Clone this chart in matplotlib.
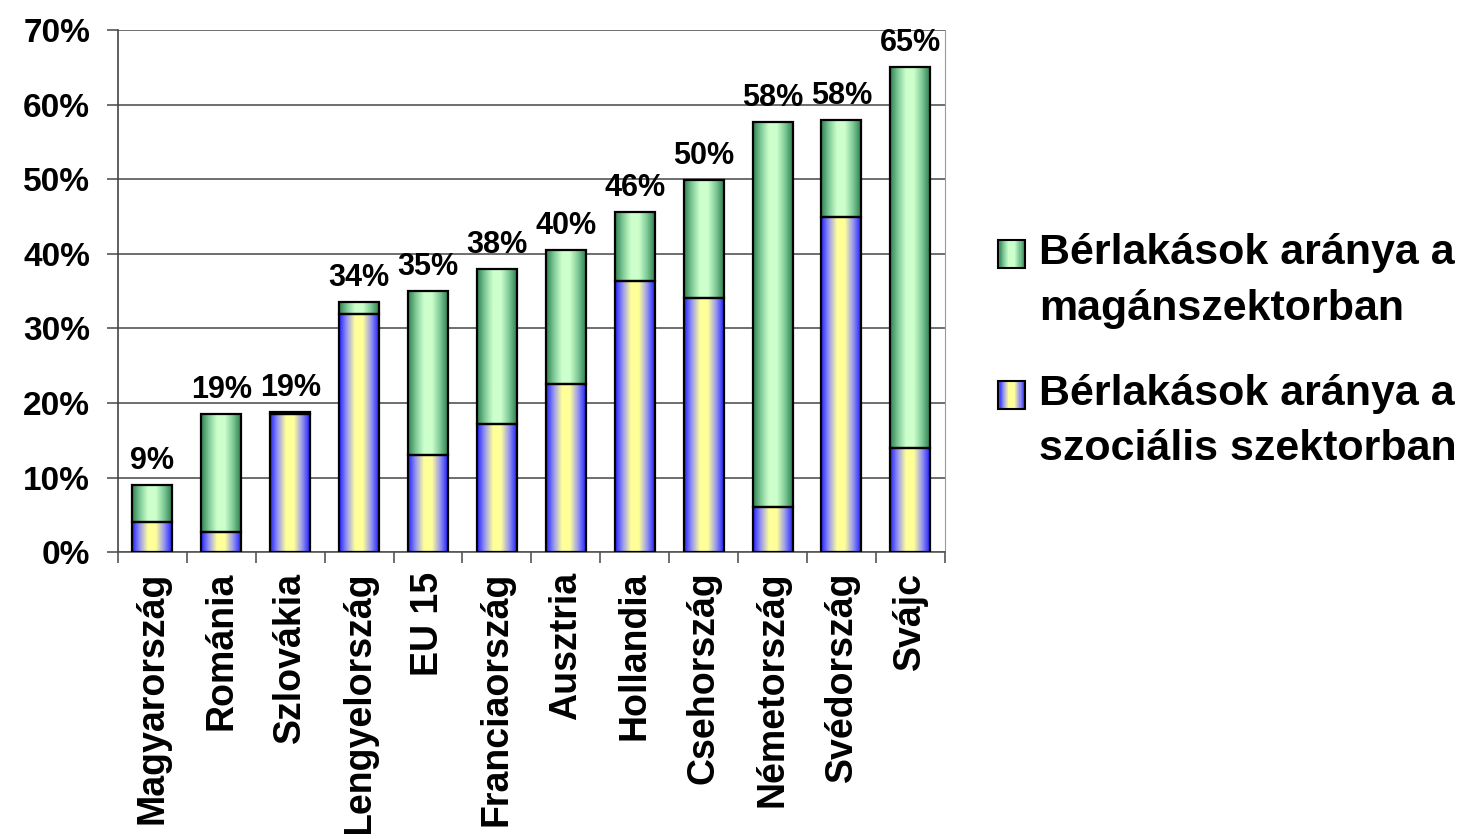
import numpy as np
import matplotlib
matplotlib.use('Agg')
import matplotlib.pyplot as plt
from matplotlib.patches import Rectangle
from matplotlib.legend_handler import HandlerBase
from matplotlib.colors import LinearSegmentedColormap

plt.rcParams['font.family'] = ['Liberation Sans', 'DejaVu Sans']
plt.rcParams['font.weight'] = 'bold'

countries = ['Magyarország', 'Románia', 'Szlovákia', 'Lengyelország', 'EU 15',
             'Franciaország', 'Ausztria', 'Hollandia', 'Csehország',
             'Németország', 'Svédország', 'Svájc']
social = [4.0, 2.7, 18.5, 31.9, 13.0, 17.2, 22.5, 36.3, 34.1, 6.0, 44.9, 13.9]
total = [9.0, 18.5, 18.8, 33.5, 35.0, 38.0, 40.5, 45.6, 49.9, 57.7, 57.9, 65.0]
total_labels = ['9%', '19%', '19%', '34%', '35%', '38%', '40%', '46%', '50%', '58%', '58%', '65%']
private = [t - s for t, s in zip(total, social)]

lbl_private = 'Bérlakások aránya a\nmagánszektorban'
lbl_social = 'Bérlakások aránya a\nszociális szektorban'

# colormaps, edge -> centre -> edge
green_cm = LinearSegmentedColormap.from_list(
    'gr', ['#2f7f50', '#7fcb98', '#ccffcc', '#ccffcc', '#7fcb98', '#2f7f50'])
blue_cm = LinearSegmentedColormap.from_list(
    'by', ['#2020ff', '#9a9aee', '#ffff99', '#ffff99', '#9a9aee', '#2020ff'])

fig = plt.figure(figsize=(14.74, 8.34), dpi=100)
ax = fig.add_axes([0.080, 0.338, 0.561, 0.626])

x = np.arange(len(countries))
w = 0.58
grad = np.linspace(0, 1, 256).reshape(1, -1)


def grad_bars(bars, cmap):
    for b in bars:
        x0, y0 = b.get_x(), b.get_y()
        im = ax.imshow(grad, cmap=cmap, aspect='auto', zorder=2,
                       extent=(x0, x0 + b.get_width(), y0, y0 + b.get_height()))
        im.set_clip_path(b)


b1 = ax.bar(x, social, w, facecolor='none', edgecolor='black', linewidth=1.6, zorder=3)
b2 = ax.bar(x, private, w, bottom=social, facecolor='none', edgecolor='black',
            linewidth=1.6, zorder=3)
grad_bars(b1, blue_cm)
grad_bars(b2, green_cm)

for xi, t, lab in zip(x, total, total_labels):
    ax.text(xi, t + 1.2, lab, ha='center', va='bottom', fontsize=22, fontweight='bold',
            clip_on=False)

ax.set_xlim(-0.5, len(countries) - 0.5)
ax.set_ylim(0, 70)
ax.set_yticks(range(0, 71, 10))
ax.set_yticklabels([f'{v}%' for v in range(0, 71, 10)], fontsize=24, fontweight='bold')
ax.yaxis.grid(True, color='#555555', linewidth=1.2, zorder=0)
ax.set_axisbelow(True)

ax.set_xticks(x)
ax.set_xticklabels(countries, rotation=90, fontsize=27, fontweight='bold')
ax.set_xticks(np.arange(-0.5, len(countries)), minor=True)
ax.tick_params(axis='x', which='major', length=0, pad=14)
ax.tick_params(axis='x', which='minor', length=8, width=1.2, color='#555555')
ax.tick_params(axis='y', length=8, width=1.2, color='#555555', pad=12)

ax.spines['top'].set_visible(False)
ax.spines['right'].set_color('#999999')
ax.spines['left'].set_color('#444444')
ax.spines['left'].set_linewidth(1.2)
ax.spines['bottom'].set_color('#555555')
ax.spines['bottom'].set_linewidth(1.2)


class GradHandler(HandlerBase):
    # square swatch with a horizontal gradient, lifted to sit beside the first text line
    def __init__(self, cmap):
        super().__init__()
        self.cmap = cmap

    def create_artists(self, legend, orig_handle, xdescent, ydescent, width, height,
                       fontsize, trans):
        arts = []
        n = 24
        y0 = -ydescent + 0.62 * fontsize
        for i in range(n):
            r = Rectangle((-xdescent + width * i / n, y0), width / n + 0.3, height,
                          facecolor=self.cmap((i + 0.5) / n), edgecolor='none', transform=trans)
            arts.append(r)
        arts.append(Rectangle((-xdescent, y0), width, height, facecolor='none',
                              edgecolor='black', linewidth=1.5, transform=trans))
        return arts


h_priv = Rectangle((0, 0), 1, 1)
h_soc = Rectangle((0, 0), 1, 1)
leg = fig.legend([h_priv, h_soc], [lbl_private, lbl_social],
                 handler_map={h_priv: GradHandler(green_cm), h_soc: GradHandler(blue_cm)},
                 loc='center left', bbox_to_anchor=(0.651, 0.579), frameon=False,
                 prop={'size': 31, 'weight': 'bold'}, handlelength=0.62, handleheight=0.62,
                 handletextpad=0.32, labelspacing=1.05)
for t in leg.get_texts():
    t.set_linespacing(1.5)

fig.savefig('out.png', dpi=100)
